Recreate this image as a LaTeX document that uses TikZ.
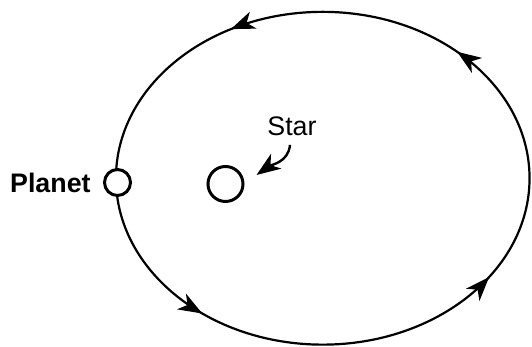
\documentclass[tikz,border=0pt]{standalone}
\usepackage{fontspec}
\setmainfont{Liberation Sans}
\usetikzlibrary{arrows.meta,decorations.markings}
\tikzset{
  orbittip/.tip={Stealth[length=12pt, width=9pt, inset=3.5pt]},
  body/.style={draw, circle, line width=1.5pt, inner sep=0pt, fill=white},
  lbl/.style={inner sep=0pt, font=\fontsize{13.4}{16}\selectfont},
  orbit/.style={line width=1.1pt, postaction={decorate},
    decoration={markings,
      mark=at position 0.129 with {\arrow{orbittip}},
      mark=at position 0.330 with {\arrow{orbittip}},
      mark=at position 0.643 with {\arrow{orbittip}},
      mark=at position 0.907 with {\arrow{orbittip}}}},
  pointer/.style={line width=1.2pt, -orbittip}
}
\begin{document}
\begin{tikzpicture}[x=0.5pt, y=0.5pt]
    \useasboundingbox (0,0) rectangle (532,347);
    % orbit
    \draw[orbit] (322.75,168.75) ellipse [x radius=103.4pt, y radius=83.2pt];
    % bodies
    \node[body, minimum size=13pt] (planet) at (117.5,164.5) {};
    \node[body, minimum size=17.5pt] (star) at (225.5,163) {};
    % labels
    \node[lbl, font=\fontsize{13.4}{16}\selectfont\bfseries, anchor=east, xshift=-6pt] (planetlbl) at (planet.west) {Planet};
    \node[lbl] (starlbl) at (292,221) {Star};
    \draw[pointer] ([shift={(-2,-9)}]starlbl.south) to[out=-95, in=35] ([shift={(12,9)}]star.east);
\end{tikzpicture}
\end{document}
